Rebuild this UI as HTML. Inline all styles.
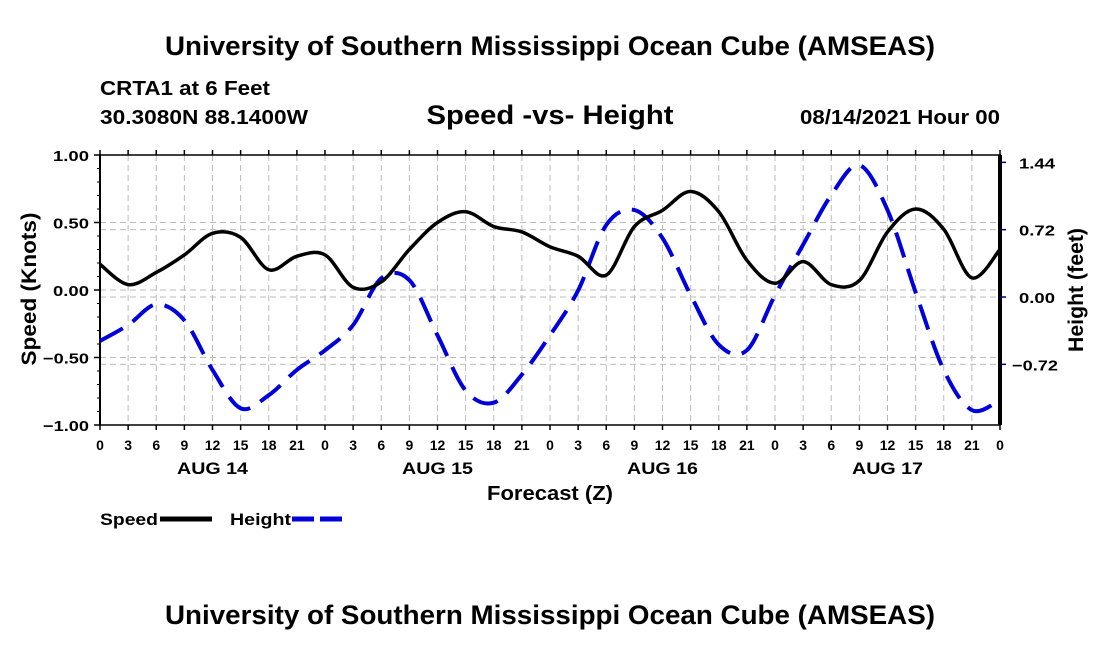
<!DOCTYPE html>
<html><head><meta charset="utf-8"><style>
body{margin:0;background:#fff;}
svg text{font-family:"Liberation Sans",Arial,sans-serif;font-weight:bold;fill:#000;}
</style></head><body>
<svg width="1100" height="650" viewBox="0 0 1100 650">
<text x="550" y="55" font-size="27" text-anchor="middle" textLength="770" lengthAdjust="spacingAndGlyphs">University of Southern Mississippi Ocean Cube (AMSEAS)</text>
<text x="100" y="95" font-size="20" textLength="170" lengthAdjust="spacingAndGlyphs">CRTA1 at 6 Feet</text>
<text x="100" y="124" font-size="20" textLength="208" lengthAdjust="spacingAndGlyphs">30.3080N  88.1400W</text>
<text x="550" y="124" font-size="27" text-anchor="middle" textLength="247" lengthAdjust="spacingAndGlyphs">Speed -vs- Height</text>
<text x="1000" y="124" font-size="20" text-anchor="end" textLength="200" lengthAdjust="spacingAndGlyphs">08/14/2021 Hour 00</text>
<g id="grid"></g>
<g id="axes"></g>
<g id="series"></g>
<text transform="translate(36,289) rotate(-90)" font-size="21" text-anchor="middle" textLength="153" lengthAdjust="spacingAndGlyphs">Speed (Knots)</text>
<text transform="translate(1083,290) rotate(-90)" font-size="21" text-anchor="middle" textLength="124" lengthAdjust="spacingAndGlyphs">Height (feet)</text>
<text x="550" y="500" font-size="20" text-anchor="middle" textLength="126" lengthAdjust="spacingAndGlyphs">Forecast (Z)</text>
<g>
<text x="100" y="525" font-size="17" textLength="58" lengthAdjust="spacingAndGlyphs">Speed</text>
<line x1="160" y1="519" x2="212" y2="519" stroke="#000" stroke-width="5"/>
<text x="230" y="525" font-size="17" textLength="61" lengthAdjust="spacingAndGlyphs">Height</text>
<line x1="292" y1="519" x2="342" y2="519" stroke="#0000dd" stroke-width="5" stroke-dasharray="22,6"/>
</g>
<text x="550" y="624" font-size="27" text-anchor="middle" textLength="770" lengthAdjust="spacingAndGlyphs">University of Southern Mississippi Ocean Cube (AMSEAS)</text>
</svg>
<script>
const hours=[0,3,6,9,12,15,18,21,24,27,30,33,36,39,42,45,48,51,54,57,60,63,66,69,72,75,78,81,84,87,90,93,96];
const speed=[0.19,0.04,0.13,0.26,0.42,0.39,0.15,0.25,0.26,0.02,0.06,0.30,0.50,0.58,0.47,0.43,0.32,0.25,0.11,0.47,0.59,0.73,0.58,0.22,0.05,0.21,0.04,0.07,0.43,0.60,0.45,0.09,0.30];
const height=[-0.47,-0.30,-0.08,-0.25,-0.78,-1.19,-1.05,-0.78,-0.57,-0.30,0.20,0.18,-0.41,-1.00,-1.13,-0.83,-0.41,0.07,0.77,0.93,0.63,0.02,-0.51,-0.57,0.02,0.56,1.09,1.41,0.93,0.05,-0.78,-1.21,-1.10];
const speedTicks=[1,0.5,0,-0.5,-1];
const heightTicks=[1.44,0.72,0,-0.72];
const dayLabels=["AUG 14","AUG 15","AUG 16","AUG 17"];
const NS="http://www.w3.org/2000/svg";
const X0=100,X1=1000,Y0=155,Y1=425;
const xs=h=>X0+(h/96)*(X1-X0);
const ys=v=>290-v*135;
const yh=v=>297-v*93.5;
function mk(t,a,p){const e=document.createElementNS(NS,t);for(const k in a)e.setAttribute(k,a[k]);p.appendChild(e);return e;}
const grid=document.getElementById('grid'),axes=document.getElementById('axes'),ser=document.getElementById('series');
for(let h=3;h<96;h+=3){const l=mk('line',{x1:xs(h),x2:xs(h),y1:Y0,y2:Y1,stroke:'#bbb','stroke-width':1,'stroke-dasharray':'6,4'},grid);

}
speedTicks.forEach(v=>{if(v===1||v===-1)return;const l=mk('line',{x1:X0,x2:X1,y1:ys(v),y2:ys(v),stroke:'#bbb','stroke-width':1,'stroke-dasharray':'6,4'},grid);

});
heightTicks.forEach(v=>{if(v===1.44)return;const l=mk('line',{x1:X0,x2:X1,y1:yh(v),y2:yh(v),stroke:'#bbb','stroke-width':1,'stroke-dasharray':'6,4'},grid);

});
mk('rect',{x:X0,y:Y0,width:X1-X0,height:Y1-Y0,fill:'none',stroke:'#000','stroke-width':1.5},axes);
mk('line',{x1:X0,x2:X0,y1:Y0,y2:Y1,stroke:'#000','stroke-width':2},axes);
mk('line',{x1:X1,x2:X1,y1:Y0,y2:Y1,stroke:'#000','stroke-width':4},axes);
speedTicks.forEach(v=>{mk('line',{x1:X0-6,x2:X0,y1:ys(v),y2:ys(v),stroke:'#000','stroke-width':1.5},axes);
const s=v.toFixed(2).replace('-','\u2212');
const t=mk('text',{x:X0-11,y:ys(v)+6,'font-size':15,'text-anchor':'end',textLength:v<0?46:36,lengthAdjust:'spacingAndGlyphs'},axes);t.textContent=s;

});
for(let v=-0.9;v<1;v+=0.1){mk('line',{x1:X0-3,x2:X0,y1:ys(v),y2:ys(v),stroke:'#000','stroke-width':1},axes);}
heightTicks.forEach(v=>{mk('line',{x1:X1,x2:X1+6,y1:yh(v),y2:yh(v),stroke:'#000080','stroke-width':1.5},axes);
const t=mk('text',{x:v<0?1012:1019,y:yh(v)+6,'font-size':15,textLength:v<0?46:36,lengthAdjust:'spacingAndGlyphs'},axes);t.textContent=v.toFixed(2).replace('-','\u2212');

});
for(let h=0;h<=96;h+=3){mk('line',{x1:xs(h),x2:xs(h),y1:Y1,y2:Y1+5,stroke:'#000','stroke-width':1.5},axes);
mk('line',{x1:xs(h),x2:xs(h),y1:Y0,y2:Y0-5,stroke:'#000','stroke-width':1.5},axes);
const t=mk('text',{x:xs(h),y:450,'font-size':14,'text-anchor':'middle'},axes);t.textContent=String(h%24);

}
dayLabels.forEach((d,i)=>{const t=mk('text',{x:xs(i*24+12),y:474,'font-size':17,'text-anchor':'middle',textLength:71,lengthAdjust:'spacingAndGlyphs'},axes);t.textContent=d;

});
function path(vals,fy){const p=hours.map((h,i)=>[xs(h),fy(vals[i])]);let d='M'+p[0][0]+','+p[0][1];
for(let i=0;i<p.length-1;i++){const a=p[i-1]||p[i],b=p[i],c=p[i+1],e=p[i+2]||c;
d+=` C${b[0]+(c[0]-a[0])/6},${b[1]+(c[1]-a[1])/6} ${c[0]-(e[0]-b[0])/6},${c[1]-(e[1]-b[1])/6} ${c[0]},${c[1]}`;}return d;}
const hp=mk('path',{d:path(height,yh),fill:'none',stroke:'#0000dd','stroke-width':4,'stroke-dasharray':'26,12'},ser);


const sp=mk('path',{d:path(speed,ys),fill:'none',stroke:'#000','stroke-width':3.5},ser);


</script>
</body></html>
